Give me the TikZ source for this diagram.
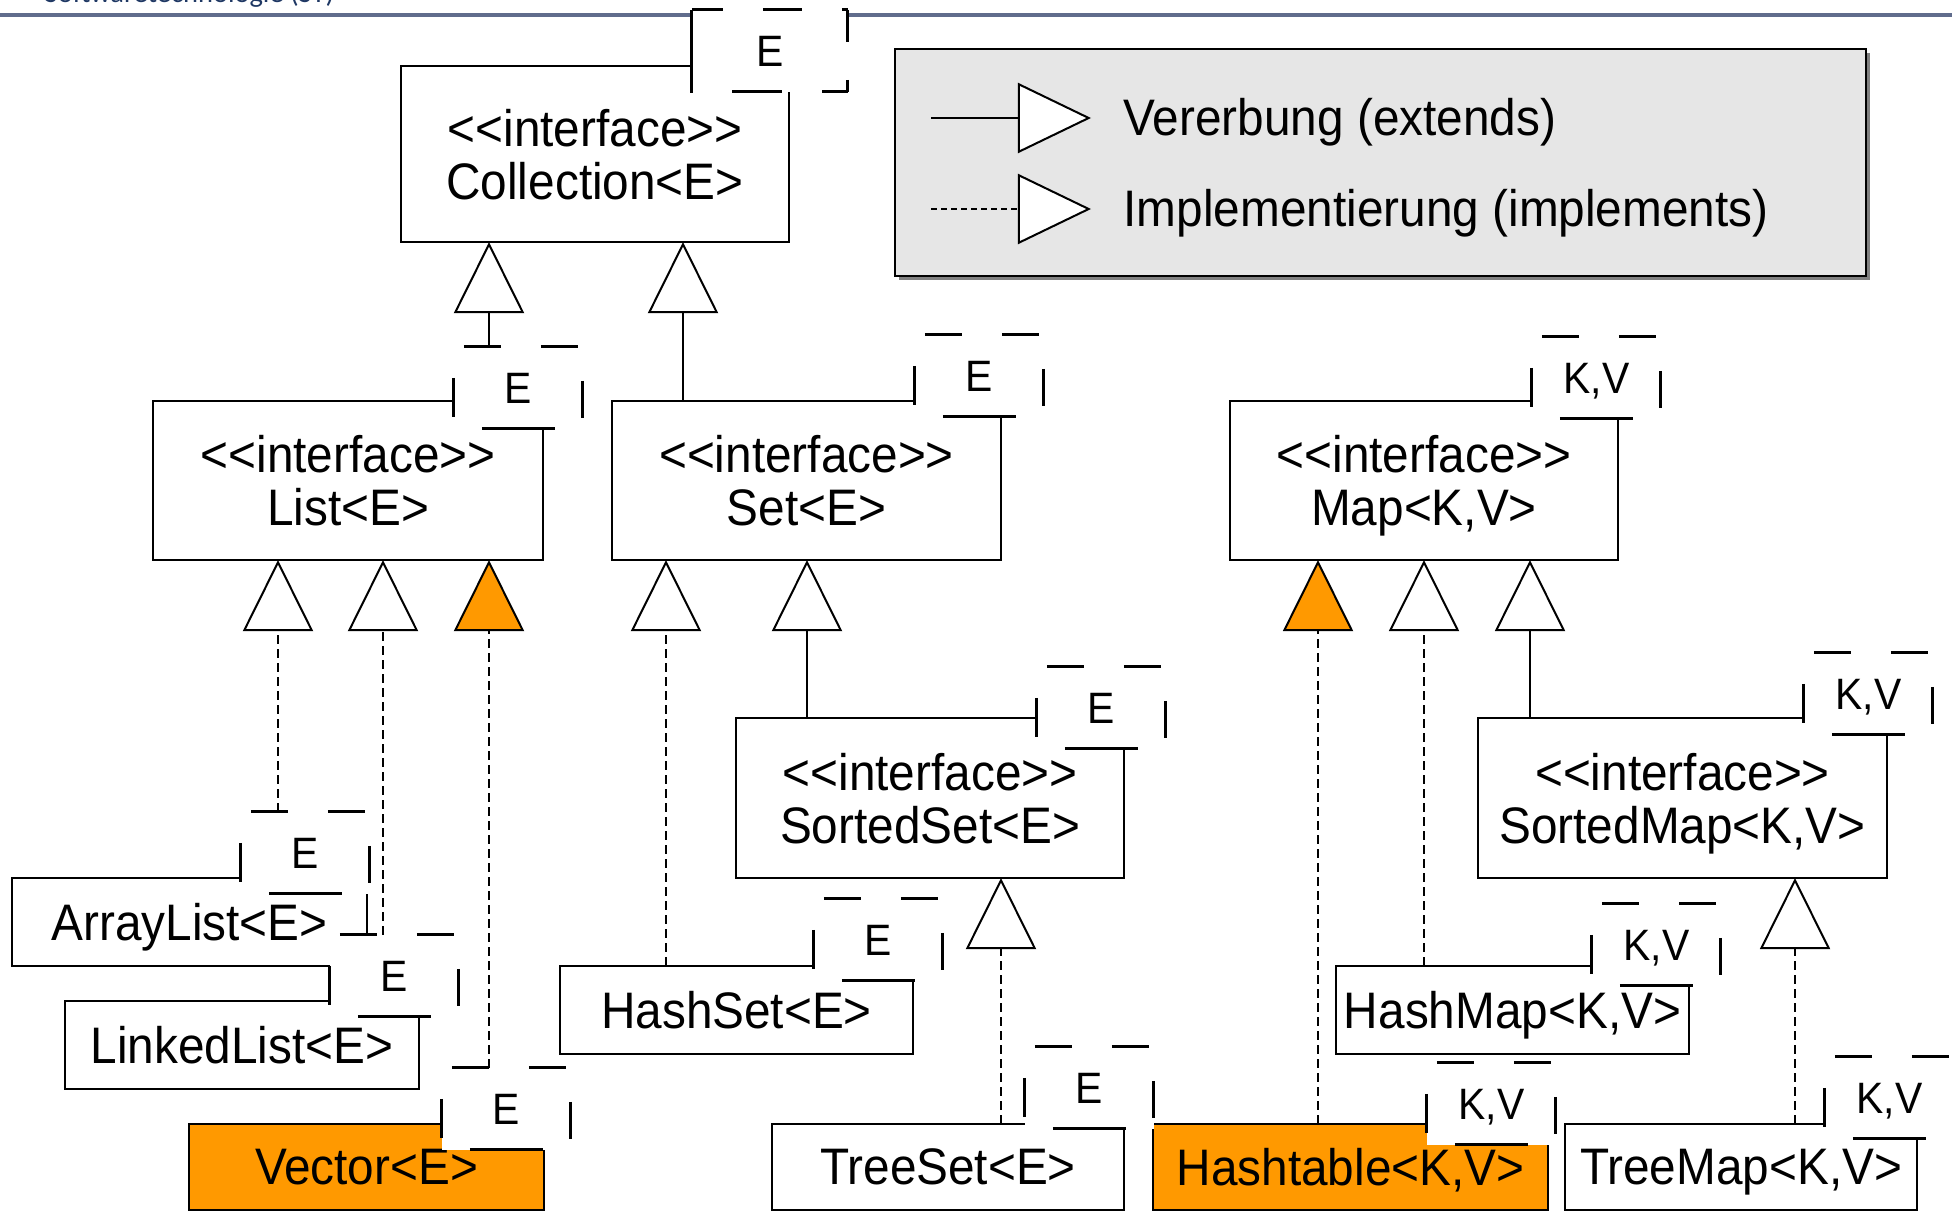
\documentclass[tikz,border=0pt]{standalone}
\usepackage{fontspec}
\setmainfont{Liberation Sans}[Ligatures=TeXOff, FakeStretch=0.93]
\newfontfamily\hdrfont{Carlito}
\usetikzlibrary{arrows.meta,calc}
\definecolor{ora}{RGB}{255,153,0}
\definecolor{hdrline}{RGB}{96,108,140}
\definecolor{hdrtext}{RGB}{31,56,100}
\definecolor{lgfill}{RGB}{230,230,230}
\definecolor{lgshadow}{RGB}{128,128,128}

\tikzset{
  cls/.style={draw=black, line width=0.02cm, fill=white, inner sep=0pt, outer sep=0pt, align=center,
    text depth=0pt, font=\fontsize{14.6}{15.1}\selectfont},
  orangecls/.style={cls, fill=ora},
  tpl/.style={fill=white, inner sep=0pt, outer sep=0pt, text depth=0pt, font=\fontsize{12.5}{14}\selectfont},
  tdash/.style={line width=0.03cm, draw=black},
  ext/.style={line width=0.02cm, line join=miter, -{Triangle[length=0.71cm,width=0.70cm,fill=white]}},
  impl/.style={ext, dash pattern=on 0.09cm off 0.05cm},
  implo/.style={line width=0.02cm, line join=miter, dash pattern=on 0.09cm off 0.05cm,
    -{Triangle[length=0.71cm,width=0.70cm,fill=ora]}},
  lgext/.style={line width=0.02cm, line join=miter, -{Triangle[length=0.73cm,width=0.70cm,fill=white]}},
  lgimpl/.style={lgext, dash pattern=on 0.06cm off 0.04cm},
  lgtext/.style={anchor=west, inner sep=0pt, font=\fontsize{14.6}{15.1}\selectfont},
}

% class box by corners: style, name, x1, y1, x2, y2, text
\newcommand\clsbox[7]{%
  \pgfmathsetmacro\bw{(#5-#3)/100}%
  \pgfmathsetmacro\bh{(#6-#4)/100}%
  \node[#1, minimum width=\bw cm, minimum height=\bh cm] (#2) at ({(#3+#5)/2},{(#4+#6)/2}) {#7};}

% template parameter box: name, left, top, text
\newcommand\tplbox[4]{%
  \node[tpl, minimum width=1.29cm, minimum height=0.82cm] (#1) at ({#2+64.5},{#3+41}) {#4};
  \begin{scope}[shift={(#1.north west)}]
    \draw[tdash] (10,0) -- (47,0) (87,0) -- (124,0) (129,34) -- (129,71)
      (28,82) -- (101,82) (0,31) -- (0,70);
  \end{scope}}

\begin{document}
\begin{tikzpicture}[x=0.01cm,y=-0.01cm]
\useasboundingbox (0,0) rectangle (1952,1212);
\fill[white] (0,0) rectangle (1952,1212);

% header
\coordinate (hl) at (0,15);
\coordinate (hr) at (1952,15);
\draw[hdrline, line width=0.03cm] (hl) -- (hr);
\begin{scope}
  \clip (0,0) rectangle (1952,1212);
  \node[anchor=base west, inner sep=0pt, text=hdrtext, font=\hdrfont\fontsize{8.1}{9}\selectfont] (title) at (44,2) {Softwaretechnologie (ST)};
\end{scope}

% legend
\fill[lgshadow] (899,53) rectangle (1870,280);
\node[draw=black, line width=0.02cm, fill=lgfill, inner sep=0pt, outer sep=0pt,
  minimum width=9.71cm, minimum height=2.27cm] (legend) at (1380.5,162.5) {};
\coordinate (l1a) at (931,118);
\coordinate (l1b) at (1091,118);
\coordinate (l2a) at (931,209);
\coordinate (l2b) at (1091,209);
\draw[lgext] (l1a) -- (l1b);
\draw[lgimpl] (l2a) -- (l2b);
\node[lgtext] (lgt1) at (1123,122) {Vererbung (extends)};
\node[lgtext] (lgt2) at (1123,213) {Implementierung (implements)};

% class boxes
\clsbox{cls}{Coll}{401}{66}{789}{242}{<<interface>>\\Collection<E>}
\clsbox{cls}{List}{153}{401}{543}{560}{<<interface>>\\List<E>}
\clsbox{cls}{Set}{612}{401}{1001}{560}{<<interface>>\\Set<E>}
\clsbox{cls}{Map}{1230}{401}{1618}{560}{<<interface>>\\Map<K,V>}
\clsbox{cls}{SSet}{736}{718}{1124}{878}{<<interface>>\\SortedSet<E>}
\clsbox{cls}{SMap}{1478}{718}{1887}{878}{<<interface>>\\SortedMap<K,V>}
\clsbox{cls}{AL}{12}{878}{367}{966}{ArrayList<E>}
\clsbox{cls}{LL}{65}{1001}{419}{1089}{LinkedList<E>}
\clsbox{orangecls}{Vec}{189}{1124}{544}{1210}{Vector<E>}
\clsbox{cls}{HS}{560}{966}{913}{1054}{HashSet<E>}
\clsbox{cls}{TS}{772}{1124}{1124}{1210}{TreeSet<E>}
\clsbox{cls}{HM}{1336}{966}{1689}{1054}{HashMap<K,V>}
\clsbox{orangecls}{HT}{1153}{1124}{1548}{1210}{Hashtable<K,V>}
\clsbox{cls}{TM}{1565}{1124}{1917}{1210}{TreeMap<K,V>}

% x positions of the inheritance triangles
\coordinate (xc1) at (489,0);
\coordinate (xc2) at (683,0);
\coordinate (xl1) at (278,0);
\coordinate (xl2) at (383,0);
\coordinate (xl3) at (489,0);
\coordinate (xs1) at (666,0);
\coordinate (xs2) at (807,0);
\coordinate (xm1) at (1318,0);
\coordinate (xm2) at (1424,0);
\coordinate (xm3) at (1530,0);
\coordinate (xss) at (1001,0);
\coordinate (xsm) at (1795,0);

% template parameter boxes (nodes first, connectors use them)
\node[tpl, minimum width=1.56cm, minimum height=0.82cm] (CollE) at (770,51) {E};
\tplbox{ListE}{454}{347}{E}
\tplbox{SetE}{915}{335}{E}
\tplbox{MapKV}{1532}{337}{K,V}
\tplbox{SSetE}{1037}{667}{E}
\tplbox{SMapKV}{1804}{653}{K,V}
\tplbox{ALE}{241}{812}{E}
\tplbox{LLE}{330}{935}{E}
\tplbox{VecE}{442}{1068}{E}
\tplbox{HSE}{814}{899}{E}
\tplbox{TSE}{1025}{1047}{E}
\tplbox{HMKV}{1592}{904}{K,V}
\tplbox{HTKV}{1427}{1063}{K,V}
\tplbox{TMKV}{1825}{1057}{K,V}
\begin{scope}[shift={(CollE.north west)}]
  \draw[tdash] (0,0) -- (31,0) (71,0) -- (110,0) (150,0) -- (156,0)
    (156,0) -- (156,32) (156,70) -- (156,82) (156,82) -- (130,82) (90,82) -- (40,82)
    (0,0) -- (0,83);
\end{scope}

% connectors
\draw[ext] (xc1 |- ListE.north) -- (xc1 |- Coll.south);
\draw[ext] (xc2 |- Set.north) -- (xc2 |- Coll.south);
\draw[impl] (xl1 |- ALE.north) -- (xl1 |- List.south);
\draw[impl] (xl2 |- LLE.north) -- (xl2 |- List.south);
\draw[implo] (xl3 |- VecE.north) -- (xl3 |- List.south);
\draw[impl] (xs1 |- HS.north) -- (xs1 |- Set.south);
\draw[ext] (xs2 |- SSet.north) -- (xs2 |- Set.south);
\draw[implo] (xm1 |- HT.north) -- (xm1 |- Map.south);
\draw[impl] (xm2 |- HM.north) -- (xm2 |- Map.south);
\draw[ext] (xm3 |- SMap.north) -- (xm3 |- Map.south);
\draw[impl] (xss |- TS.north) -- (xss |- SSet.south);
\draw[impl] (xsm |- TM.north) -- (xsm |- SMap.south);
\end{tikzpicture}
\end{document}
